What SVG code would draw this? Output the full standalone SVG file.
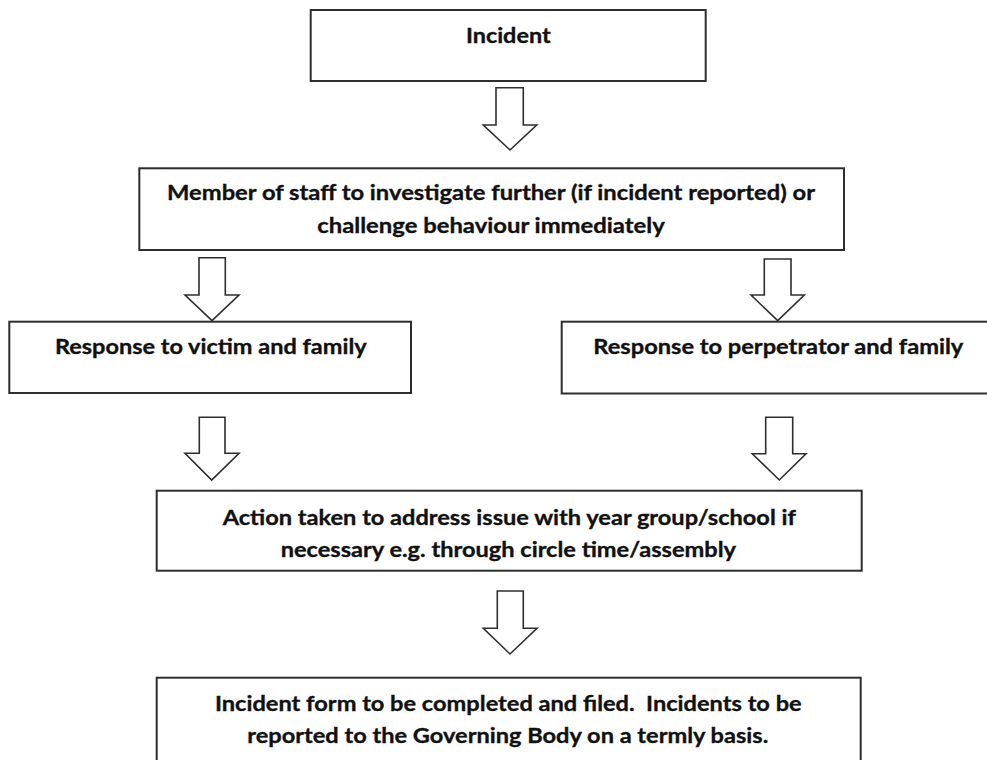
<svg xmlns="http://www.w3.org/2000/svg" width="987" height="760" viewBox="0 0 987 760">
  <style>
    .box { fill: #ffffff; stroke: #2e2e2e; stroke-width: 2; }
    .arrow { fill: #ffffff; stroke: #2e2e2e; stroke-width: 1.6; stroke-linejoin: miter; }
    .label { font-family: Lato, "Open Sans", "Liberation Sans", sans-serif; font-weight: bold; font-size: 21.5px; fill: #111111; stroke: #111111; stroke-width: 0.35; text-anchor: middle; }
  </style>
  <rect x="0" y="0" width="987" height="760" fill="#ffffff"/>

  <g id="connectors">
    <polygon class="arrow" points="496,87.7 523.3,87.7 523.3,125 536.7,125 510,150 483.3,125 496,125"/>
    <polygon class="arrow" points="199,257.7 225.3,257.7 225.3,295 239,295 212,320.7 185,295 199,295"/>
    <polygon class="arrow" points="764.3,259 791,259 791,295 804.3,295 777.7,320.7 751,295 764.3,295"/>
    <polygon class="arrow" points="199.3,417.3 225,417.3 225,453.3 239,453.3 211.7,480 185,453.3 199.3,453.3"/>
    <polygon class="arrow" points="765.7,417.3 792.7,417.3 792.7,453.7 806,453.7 779.3,480 752.3,453.7 765.7,453.7"/>
    <polygon class="arrow" points="497.3,591 523.3,591 523.3,628.3 537,628.3 510,654 483.3,628.3 497.3,628.3"/>
  </g>

  <g id="node-incident">
    <rect class="box" x="310.7" y="10" width="395" height="71"/>
    <text class="label" x="508.3" y="43.3" textLength="84.7" lengthAdjust="spacingAndGlyphs">Incident</text>
  </g>

  <g id="node-investigate">
    <rect class="box" x="139.3" y="168.3" width="704.7" height="81.7"/>
    <text class="label" x="491" y="200" textLength="648" lengthAdjust="spacingAndGlyphs">Member of staff to investigate further (if incident reported) or</text>
    <text class="label" x="491" y="233" textLength="347.5" lengthAdjust="spacingAndGlyphs">challenge behaviour immediately</text>
  </g>

  <g id="node-victim">
    <rect class="box" x="9.3" y="321.7" width="401.7" height="71.3"/>
    <text class="label" x="210.8" y="354" textLength="311.7" lengthAdjust="spacingAndGlyphs">Response to victim and family</text>
  </g>

  <g id="node-perpetrator">
    <rect class="box" x="561.7" y="321.7" width="440" height="71.8"/>
    <text class="label" x="778.3" y="354" textLength="370" lengthAdjust="spacingAndGlyphs">Response to perpetrator and family</text>
  </g>

  <g id="node-action">
    <rect class="box" x="156.7" y="490.7" width="705" height="80"/>
    <text class="label" x="509.3" y="525" textLength="573.3" lengthAdjust="spacingAndGlyphs">Action taken to address issue with year group/school if</text>
    <text class="label" x="508.3" y="556.7" textLength="455.3" lengthAdjust="spacingAndGlyphs">necessary e.g. through circle time/assembly</text>
  </g>

  <g id="node-form">
    <rect class="box" x="156.7" y="677.7" width="704" height="100"/>
    <text class="label" x="508.3" y="710.7" textLength="586.7" lengthAdjust="spacingAndGlyphs">Incident form to be completed and filed.&#160; Incidents to be</text>
    <text class="label" x="507.8" y="743.3" textLength="521" lengthAdjust="spacingAndGlyphs">reported to the Governing Body on a termly basis.</text>
  </g>
</svg>
